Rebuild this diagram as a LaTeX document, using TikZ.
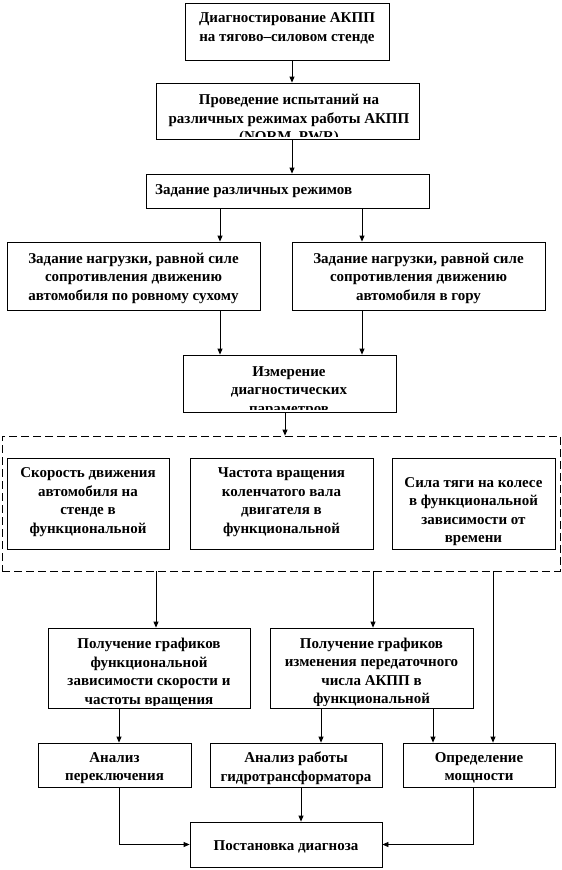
\documentclass[tikz,border=0pt]{standalone}
\usepackage{fontspec}
\setmainfont{Liberation Serif}
\usetikzlibrary{arrows.meta,fit}
\newcommand\bx[8]{%
  \coordinate (#1-nw) at (#2,#3);
  \coordinate (#1-se) at (#4,#5);
  \node[box, fit=(#1-nw)(#1-se)] (#1) {};
  \begin{scope}
    \clip ([yshift=3pt]#1.south west) rectangle (#1.north east);
    \node[txt] (#1-t) at (#6,#7) {#8};
  \end{scope}}
\begin{document}
\begin{tikzpicture}[x=1pt,y=-1pt,
  box/.style={draw, line width=0.8pt, inner sep=0pt},
  txt/.style={font=\bfseries\fontsize{15}{18.5}\selectfont, align=center, inner sep=0pt,
    execute at begin node=\strut, execute at end node=\strut},
  arr/.style={line width=0.8pt, -{Triangle[length=6pt,width=5pt]}},
  grpbox/.style={draw, line width=0.8pt, dash pattern=on 8pt off 4pt, inner sep=0pt}]
\useasboundingbox (0,0) rectangle (562,870);

\bx{b1}{185}{3}{389}{60}{287}{30}{Диагностирование АКПП\\на тягово–силовом стенде}
\bx{b2}{156}{83}{419}{139}{289}{121}{Проведение испытаний на\\различных режимах работы АКПП\\(NORM, PWR)}
\coordinate (b3-nw) at (146,174);
\coordinate (b3-se) at (429,208);
\node[box, fit=(b3-nw)(b3-se)] (b3) {};
\node[txt, anchor=west] (b3-t) at (155,190.5) {Задание различных режимов};
\bx{b4l}{7}{242}{260}{310}{133.5}{279.5}{Задание нагрузки, равной силе\\сопротивления движению\\автомобиля по ровному сухому}
\bx{b4r}{292}{242}{545}{310}{418.5}{279.5}{Задание нагрузки, равной силе\\сопротивления движению\\автомобиля в гору}
\bx{b5}{183}{355}{396}{412}{289}{392.5}{Измерение\\диагностических\\параметров}

\coordinate (g-nw) at (2,436);
\coordinate (g-se) at (560,571);
\node[grpbox, fit=(g-nw)(g-se)] (grp) {};
\bx{b6a}{7}{458}{169}{549}{88}{503.5}{Скорость движения\\автомобиля на\\стенде в\\функциональной}
\bx{b6b}{190}{458}{373}{549}{281.5}{503.5}{Частота вращения\\коленчатого вала\\двигателя в\\функциональной}
\bx{b6c}{392}{458}{555}{549}{473.5}{513}{Сила тяги на колесе\\в функциональной\\зависимости от\\времени}

\bx{b7l}{48}{628}{250}{708}{149}{674}{Получение графиков\\функциональной\\зависимости скорости и\\частоты вращения}
\bx{b7r}{270}{628}{473}{708}{371.5}{673.5}{Получение графиков\\изменения передаточного\\числа АКПП в\\функциональной}
\bx{b8a}{38}{743}{191}{787}{114.5}{769.5}{Анализ\\переключения}
\bx{b8b}{210}{743}{382}{787}{296}{769.5}{Анализ работы\\гидротрансформатора}
\bx{b8c}{403}{743}{555}{787}{479}{769.5}{Определение\\мощности}
\bx{b9}{190}{822}{382}{867}{286}{847}{Постановка диагноза}

\draw[arr] ([xshift=5pt]b1.south) -- ([xshift=5pt]b1.south |- b2.north);
\draw[arr] ([xshift=4.5pt]b2.south) -- ([xshift=4.5pt]b2.south |- b3.north);
\draw[arr] ([xshift=-67.5pt]b3.south) -- ([xshift=-67.5pt]b3.south |- b4l.north);
\draw[arr] ([xshift=74.5pt]b3.south) -- ([xshift=74.5pt]b3.south |- b4r.north);
\draw[arr] ([xshift=86.5pt]b4l.south) -- ([xshift=86.5pt]b4l.south |- b5.north);
\draw[arr] ([xshift=-56.5pt]b4r.south) -- ([xshift=-56.5pt]b4r.south |- b5.north);
\draw[arr] ([xshift=-4.5pt]b5.south) -- ([xshift=-4.5pt]b5.south |- grp.north);
\draw[arr] ([xshift=7pt]b7l.north |- grp.south) -- ([xshift=7pt]b7l.north);
\draw[arr] ([xshift=1.5pt]b7r.north |- grp.south) -- ([xshift=1.5pt]b7r.north);
\draw[arr] ([xshift=14pt]b8c.north |- grp.south) -- ([xshift=14pt]b8c.north);
\draw[arr] ([xshift=4.5pt]b8a.north |- b7l.south) -- ([xshift=4.5pt]b8a.north);
\draw[arr] ([xshift=25pt]b8b.north |- b7r.south) -- ([xshift=25pt]b8b.north);
\draw[arr] ([xshift=-46pt]b8c.north |- b7r.south) -- ([xshift=-46pt]b8c.north);
\draw[arr] ([xshift=4.5pt]b8a.south) |- (b9.west);
\draw[arr] ([xshift=5pt]b8b.south) -- ([xshift=5pt]b8b.south |- b9.north);
\draw[arr] ([xshift=-6pt]b8c.south) |- (b9.east);
\end{tikzpicture}
\end{document}
